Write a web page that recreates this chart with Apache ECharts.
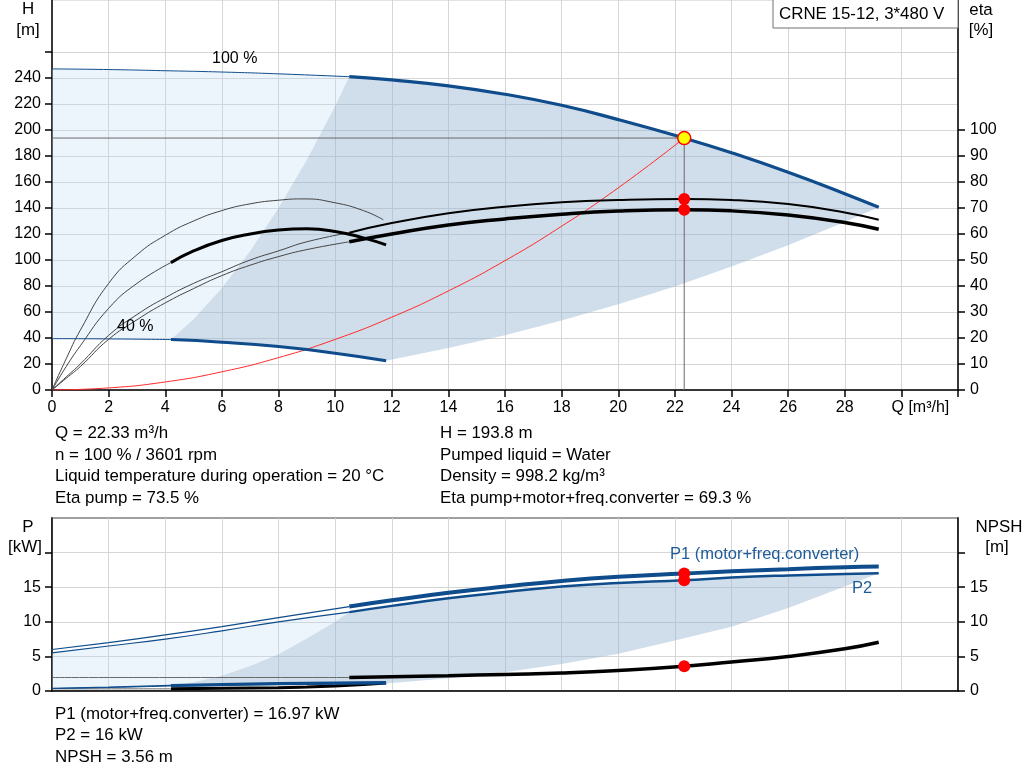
<!DOCTYPE html>
<html><head><meta charset="utf-8">
<script src="https://cdn.jsdelivr.net/npm/echarts@6/dist/echarts.min.js"></script>
<style>html,body{margin:0;padding:0;background:#fff}#c{width:1024px;height:781px}</style>
</head><body><div id="c"></div>
<script>
// ---------- DATA ----------
const hLabelValues = [0,20,40,60,80,100,120,140,160,180,200,220,240];
const hTickValues = [0,20,40,60,80,100,120,140,160,180,200,220,240,260];
const etaLabelValues = [0,10,20,30,40,50,60,70,80,90,100];
const pLabelValues = [0,5,10,15];
const pTickValues = [0,5,10,15,20];

// head 100 %
const head100ThinQ = [0,2,4,6,8,10.5];
const head100ThinH = [247,246.5,245.6,244.6,243.2,241];
const head100Q = [10.5,12,14,16,18,20,22.33,24,26,28,29.2];
const head100H = [241,238.5,234,227.5,219,208,193.8,182.5,167.5,151,140.5];
// head 40 %
const head40ThinQ = [0,2,4.2];
const head40ThinH = [39.5,39.3,38.8];
const head40Q = [4.2,6,8,10,11.8];
const head40H = [38.8,36.8,33.4,28.3,22.5];
// operating range boundaries (H)
const hLeftBoundQ = [4.2,5,6,7,8,9,10,10.5];
const hLeftBoundH = [38.8,54.5,78.5,107,140,177,218.5,241];
const hRightBoundQ = [11.8,14,16,18,20,22,24,26,28,29.2];
const hRightBoundH = [22.5,32.3,42.2,53.4,65.9,79.7,95,111.4,129.2,140.5];
// eta pump 100 %
const etaPump100ThinQ = [0,0.5,1,2,3,4,5,6,7,8,9,10.5];
const etaPump100ThinV = [0,5,10,21,29,35.5,41,45.5,50,53.5,57,60.5];
const etaPump100Q = [10.5,12,14,16,18,20,22.33,24,26,28,29.2];
const etaPump100V = [60.5,64.2,68,70.5,72.2,73.1,73.5,73.1,71.5,68.3,65.5];
// eta pump+motor+freq.converter 100 %
const etaTot100ThinQ = [0,0.5,1,2,3,4,5,6,7,8,9,10.5];
const etaTot100ThinV = [0,4.5,9,19.5,27,33.5,39,44,48,51.3,54,57];
const etaTot100Q = [10.5,12,14,16,18,20,22.33,24,26,28,29.2];
const etaTot100V = [57,60,63.5,65.8,67.6,68.8,69.3,68.9,67.3,64.4,61.8];
// eta 40 %
const etaPump40Q = [0,0.5,1,2,3,4,5,6,7,8,8.9,10,11,11.7];
const etaPump40V = [0,12,23,41,52,59.5,65,69,71.6,73,73.5,72,69,65.5];
const etaTot40ThinQ = [0,0.5,1,2,3,4.2];
const etaTot40ThinV = [0,9,17,31.4,41,49];
const etaTot40Q = [4.2,5,6,7,8,9,10,11,11.8];
const etaTot40V = [49,53.5,57.5,60,61.5,62,61,58.5,55.8];
// system curve
const sysQ = [0,2,4,6,8,10,12,14,16,18,20,22.33];
const sysH = [0,1.6,6.2,14,24.9,38.9,56,76.2,99.5,126,155.5,193.8];
// duty point
const dutyQ = 22.33, dutyH = 193.8, dutyEtaPump = 73.5, dutyEtaTot = 69.3;
const dutyP1 = 16.97, dutyP2 = 16, dutyNPSH = 3.56;

// power 100 %
const p1ThinQ = [0,2,4,6,8,10.5];
const p1ThinV = [6.0,7.0,8.1,9.3,10.6,12.2];
const p1Q = [10.5,12,14,16,18,20,22.33,24,26,28,29.2];
const p1V = [12.2,13.1,14.2,15.1,15.9,16.5,16.97,17.3,17.6,17.9,18.0];
const p2ThinQ = [0,2,4,6,8,10.5];
const p2ThinV = [5.5,6.5,7.5,8.7,10.0,11.4];
const p2Q = [10.5,12,14,16,18,20,22.33,24,26,28,29.2];
const p2V = [11.4,12.3,13.4,14.3,15.1,15.6,16.0,16.4,16.7,16.9,17.0];
// power 40 %
const p1_40ThinQ = [0,2,4.2];
const p1_40ThinV = [0.4,0.55,0.8];
const p1_40Q = [4.2,6,8,10,11.8];
const p1_40V = [0.8,0.95,1.07,1.16,1.22];
const p2_40ThinQ = [0,2,4.2];
const p2_40ThinV = [0.35,0.5,0.73];
const p2_40Q = [4.2,6,8,10,11.8];
const p2_40V = [0.73,0.87,0.98,1.06,1.1];
// NPSH
const npshThinQ = [0,10.5];
const npshThinV = [1.95,1.95];
const npshQ = [10.5,12,14,16,18,20,22.33,24,26,28,29.2];
const npshV = [1.95,2.05,2.2,2.4,2.6,2.95,3.56,4.2,5.0,6.1,7.05];
const npsh40ThinQ = [0,4.2];
const npsh40ThinV = [0.31,0.31];
const npsh40Q = [4.2,6,8,9,10,11,11.8];
const npsh40V = [0.31,0.38,0.47,0.58,0.74,0.94,1.14];
// operating range boundaries (P)
const pLeftBoundQ = [4.2,5,6,7,8,9,10,10.5];
const pLeftBoundV = [0.73,1.25,2.2,3.6,5.3,7.6,10.0,11.4];
const pRightBoundQ = [11.8,14,16,18,20,22,24,26,28,29.2];
const pRightBoundV = [1.1,1.85,2.7,3.9,5.4,7.3,9.3,12.0,15.1,17.0];

// ---------- CHART ----------
const F = '"Liberation Sans", Arial, sans-serif';
const BLUE = '#0f4c8c';
const zip = (q, v) => q.map((x, i) => [x, v[i]]);
const rev = a => a.slice().reverse();

function poly(xi, yi, pts, color, z) {
  return {type:'custom', xAxisIndex:xi, yAxisIndex:yi, silent:true, z:z, animation:false,
    data:[pts[0]],
    renderItem:(params, api) => ({type:'polygon', shape:{points: pts.map(p => api.coord(p)), smooth:0}, style:{fill:color}})};
}
function line(xi, yi, q, v, color, width, z) {
  return {type:'line', xAxisIndex:xi, yAxisIndex:yi, data:zip(q, v), showSymbol:false, symbol:'none',
    smooth:0.5, lineStyle:{color:color, width:width}, z:z||5, silent:true, animation:false};
}
function dot(xi, yi, pts, size, color, border) {
  return {type:'scatter', xAxisIndex:xi, yAxisIndex:yi, data:pts, symbolSize:size, z:20, silent:true, animation:false,
    itemStyle:{color:color, borderColor:border||color, borderWidth:border?1.5:0, opacity:1}};
}

const topLight = [].concat(zip(head100ThinQ, head100ThinH), rev(zip(hLeftBoundQ, hLeftBoundH)), rev(zip(head40ThinQ, head40ThinH)));
const topDark = [].concat(zip(hLeftBoundQ, hLeftBoundH), zip(head100Q, head100H), rev(zip(hRightBoundQ, hRightBoundH)), rev(zip(head40Q, head40H)));
const botLight = [].concat(zip(p2ThinQ, p2ThinV), rev(zip(pLeftBoundQ, pLeftBoundV)), rev(zip(p2_40ThinQ, p2_40ThinV)));
const botDark = [].concat(zip(pLeftBoundQ, pLeftBoundV), zip(p2Q, p2V), rev(zip(pRightBoundQ, pRightBoundV)), rev(zip(p2_40Q, p2_40V)));

const chart = echarts.init(document.getElementById('c'), null, {renderer:'canvas'});
const lbl = {fontFamily:F, fontSize:16, color:'#000'};
const gridLine = {show:true, lineStyle:{color:'#d6d6d6', width:1}};
const axLine = {show:true, lineStyle:{color:'#000', width:1.5}};

function txt(x, y, s, opt) {
  opt = opt || {};
  return {type:'text', x:x, y:y, z:100, silent:true,
    style:{text:s, fontFamily:F, fontSize:opt.size||16.9, fill:opt.color||'#000',
      align:opt.align||'left', verticalAlign:'middle'}};
}

chart.setOption({
  animation:false,
  backgroundColor:'#fff',
  grid:[
    {left:52, right:66, top:0, height:390, show:true, borderColor:'#c8c8c8', borderWidth:1, backgroundColor:'transparent'},
    {left:52, right:66, top:518, height:173, show:true, borderColor:'#a0a0a0', borderWidth:2, backgroundColor:'transparent'}
  ],
  xAxis:[
    {gridIndex:0, type:'value', min:0, max:32, interval:2, axisLine:axLine,
      axisTick:{show:true, length:7, lineStyle:{color:'#000', width:1.5}},
      axisLabel:Object.assign({margin:10, formatter:v => v === 30 ? '{q|Q [m³/h]}' : (v >= 32 ? '' : String(v)),
        rich:{q:{fontFamily:F, fontSize:16, color:'#000', padding:[0,0,0,38]}}}, lbl),
      splitLine:gridLine},
    {gridIndex:1, type:'value', min:0, max:32, interval:2, axisLine:axLine,
      axisTick:{show:false}, axisLabel:{show:false}, splitLine:gridLine}
  ],
  yAxis:[
    {gridIndex:0, type:'value', min:0, max:300, interval:20, position:'left', axisLine:axLine,
      axisTick:{show:true, length:7, customValues:hTickValues, lineStyle:{color:'#000', width:1.5}},
      axisLabel:Object.assign({margin:11, customValues:hLabelValues}, lbl), splitLine:gridLine},
    {gridIndex:0, type:'value', min:0, max:150, interval:10, position:'right', axisLine:axLine,
      axisTick:{show:true, length:7, customValues:etaLabelValues, lineStyle:{color:'#000', width:1.5}},
      axisLabel:Object.assign({margin:12, customValues:etaLabelValues}, lbl), splitLine:{show:false}},
    {gridIndex:1, type:'value', min:0, max:25, interval:5, position:'left', axisLine:axLine,
      axisTick:{show:true, length:7, customValues:pTickValues, lineStyle:{color:'#000', width:1.5}},
      axisLabel:Object.assign({margin:11, customValues:pLabelValues}, lbl), splitLine:gridLine},
    {gridIndex:1, type:'value', min:0, max:25, interval:5, position:'right', axisLine:axLine,
      axisTick:{show:true, length:7, customValues:pTickValues, lineStyle:{color:'#000', width:1.5}},
      axisLabel:Object.assign({margin:12, customValues:pLabelValues}, lbl), splitLine:{show:false}}
  ],
  graphic:[
    {type:'rect', z:50, shape:{x:773, y:-1, width:185, height:29}, style:{fill:'#fff', stroke:'#707070', lineWidth:1}},
    txt(779, 14, 'CRNE 15-12, 3*480 V'),
    txt(28, 9, 'H', {align:'center'}), txt(28, 30, '[m]', {align:'center'}),
    txt(981, 10, 'eta', {align:'center'}), txt(981, 30, '[%]', {align:'center'}),
    txt(28, 527, 'P', {align:'center'}), txt(25, 547, '[kW]', {align:'center'}),
    txt(999, 527, 'NPSH', {align:'center'}), txt(997, 547, '[m]', {align:'center'}),
    txt(212, 59, '100 %', {size:16}), txt(117, 327, '40 %', {size:16}),
    txt(670, 554, 'P1 (motor+freq.converter)', {color:'#1d5b9a', size:16.5}),
    txt(852, 588, 'P2', {color:'#1d5b9a', size:16.5}),
    txt(55, 433, 'Q = 22.33 m³/h'),
    txt(55, 455, 'n = 100 % / 3601 rpm'),
    txt(55, 476, 'Liquid temperature during operation = 20 °C'),
    txt(55, 498, 'Eta pump = 73.5 %'),
    txt(440, 433, 'H = 193.8 m'),
    txt(440, 455, 'Pumped liquid = Water'),
    txt(440, 476, 'Density = 998.2 kg/m³'),
    txt(440, 498, 'Eta pump+motor+freq.converter = 69.3 %'),
    txt(55, 714, 'P1 (motor+freq.converter) = 16.97 kW'),
    txt(55, 735, 'P2 = 16 kW'),
    txt(55, 757, 'NPSH = 3.56 m')
  ],
  series:[
    poly(0, 0, topLight, 'rgba(190,218,245,0.28)', 1),
    poly(0, 0, topDark, 'rgba(150,180,208,0.45)', 1),
    poly(1, 2, botLight, 'rgba(190,218,245,0.28)', 1),
    poly(1, 2, botDark, 'rgba(150,180,208,0.45)', 1),
    // top chart
    {type:'line', xAxisIndex:0, yAxisIndex:0, data:[[0,dutyH],[dutyQ,dutyH],[dutyQ,0]], showSymbol:false, symbol:'none',
      lineStyle:{color:'#6a6a6a', width:1}, z:4, silent:true},
    line(0, 0, sysQ, sysH, '#ff2a2a', 1, 6),
    line(0, 0, head100ThinQ, head100ThinH, BLUE, 1, 6),
    line(0, 0, head100Q, head100H, BLUE, 3.2, 7),
    line(0, 0, head40ThinQ, head40ThinH, BLUE, 1, 6),
    line(0, 0, head40Q, head40H, BLUE, 3, 7),
    line(0, 1, etaPump100ThinQ, etaPump100ThinV, '#444', 1, 6),
    line(0, 1, etaPump100Q, etaPump100V, '#000', 2, 7),
    line(0, 1, etaTot100ThinQ, etaTot100ThinV, '#444', 1, 6),
    line(0, 1, etaTot100Q, etaTot100V, '#000', 3.5, 7),
    line(0, 1, etaPump40Q, etaPump40V, '#444', 1, 6),
    line(0, 1, etaTot40ThinQ, etaTot40ThinV, '#444', 1, 6),
    line(0, 1, etaTot40Q, etaTot40V, '#000', 3, 7),
    dot(0, 1, [[dutyQ, dutyEtaPump], [dutyQ, dutyEtaTot]], 12, '#ff0000'),
    dot(0, 0, [[dutyQ, dutyH]], 13, '#ffff00', '#ff0000'),
    // bottom chart
    line(1, 3, npshThinQ, npshThinV, '#6a6a6a', 1, 6),
    line(1, 3, npshQ, npshV, '#000', 3.5, 7),
    line(1, 3, npsh40ThinQ, npsh40ThinV, '#6a6a6a', 1, 6),
    line(1, 3, npsh40Q, npsh40V, '#000', 3, 7),
    line(1, 2, p1ThinQ, p1ThinV, BLUE, 1.2, 6),
    line(1, 2, p1Q, p1V, BLUE, 4, 7),
    line(1, 2, p2ThinQ, p2ThinV, BLUE, 1.2, 6),
    line(1, 2, p2Q, p2V, BLUE, 2.5, 7),
    line(1, 2, p1_40ThinQ, p1_40ThinV, BLUE, 1.2, 6),
    line(1, 2, p1_40Q, p1_40V, BLUE, 3, 7),
    line(1, 2, p2_40ThinQ, p2_40ThinV, BLUE, 1, 6),
    line(1, 2, p2_40Q, p2_40V, BLUE, 2, 7),
    dot(1, 2, [[dutyQ, dutyP1], [dutyQ, dutyP2]], 12, '#ff0000'),
    dot(1, 3, [[dutyQ, dutyNPSH]], 12, '#ff0000')
  ]
});
</script></body></html>
